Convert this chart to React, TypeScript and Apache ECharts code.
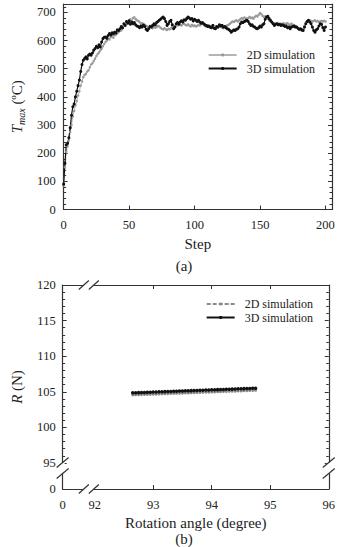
import React, { useEffect, useRef } from 'react';
import * as echarts from 'echarts';

const FONT = '"Liberation Serif", "Times New Roman", serif';
const INK = '#222';
const AXIS = '#333';

// ---------- (a) Tmax vs step ----------
const steps = Array.from({ length: 201 }, (_, i) => i);
const tmax2D = [
  85, 150, 205, 225, 245, 275, 300, 330, 350, 370,
  385, 405, 420, 440, 455, 470, 478, 482, 490, 495,
  505, 515, 520, 528, 536, 545, 552, 558, 565, 571,
  580, 588, 595, 600, 607, 604, 612, 616, 610, 619,
  622, 626, 630, 634, 636, 645, 652, 658, 662, 666,
  672, 676, 668, 680, 683, 676, 672, 670, 666, 660,
  662, 658, 656, 652, 650, 648, 652, 648, 644, 650,
  646, 648, 652, 650, 646, 642, 640, 644, 640, 638,
  642, 640, 644, 648, 652, 650, 656, 654, 660, 656,
  654, 658, 660, 656, 654, 658, 654, 650, 656, 652,
  654, 650, 652, 656, 654, 658, 660, 656, 652, 650,
  654, 648, 646, 650, 648, 644, 650, 646, 648, 652,
  650, 646, 644, 648, 652, 654, 656, 660, 664, 668,
  666, 670, 672, 668, 672, 676, 680, 678, 682, 680,
  676, 680, 684, 680, 682, 678, 684, 688, 686, 692,
  698, 694, 688, 684, 686, 682, 678, 672, 668, 664,
  660, 662, 658, 662, 660, 656, 660, 658, 662, 658,
  660, 662, 658, 656, 660, 656, 654, 652, 648, 644,
  640, 638, 636, 640, 652, 664, 670, 668, 672, 670,
  668, 670, 672, 668, 670, 666, 668, 670, 668, 670,
  668,
];
const tmax3D = [
  90, 165, 230, 235, 255, 290, 335, 365, 375, 400,
  420, 440, 460, 490, 515, 530, 536, 542, 535, 548,
  552, 548, 556, 566, 572, 580, 575, 585, 577, 595,
  607, 612, 613, 608, 618, 625, 620, 628, 624, 630,
  627, 638, 636, 642, 650, 645, 660, 654, 668, 662,
  670, 658, 666, 660, 664, 656, 652, 650, 646, 652,
  648, 655, 650, 640, 636, 642, 650, 648, 654, 660,
  656, 664, 668, 672, 676, 680, 684, 678, 668, 654,
  660, 668, 672, 656, 642, 648, 660, 664, 658, 666,
  670, 666, 674, 672, 678, 684, 680, 676, 678, 670,
  676, 672, 668, 672, 666, 662, 664, 660, 656, 654,
  650, 652, 648, 646, 654, 644, 642, 650, 648, 656,
  652, 654, 648, 650, 646, 642, 640, 636, 630, 634,
  638, 636, 640, 642, 648, 660, 666, 664, 668, 670,
  672, 668, 660, 654, 656, 650, 648, 644, 642, 646,
  652, 648, 656, 660, 676, 684, 686, 678, 672, 666,
  660, 654, 658, 660, 656, 658, 654, 656, 654, 650,
  652, 646, 648, 642, 648, 650, 652, 648, 648, 644,
  640, 642, 638, 636, 648, 660, 668, 672, 666, 660,
  648, 636, 630, 638, 642, 652, 660, 658, 646, 636,
  648,
];
const stepLabels = [0, 50, 100, 150, 200];
const tmaxLabels = [0, 100, 200, 300, 400, 500, 600, 700];

// ---------- (b) R vs rotation angle ----------
const angles = [
  92.65, 92.7, 92.75, 92.8, 92.85, 92.9, 92.95, 93.0, 93.05, 93.1,
  93.15, 93.2, 93.25, 93.3, 93.35, 93.4, 93.45, 93.5, 93.55, 93.6,
  93.65, 93.7, 93.75, 93.8, 93.85, 93.9, 93.95, 94.0, 94.05, 94.1,
  94.15, 94.2, 94.25, 94.3, 94.35, 94.4, 94.45, 94.5, 94.55, 94.6,
  94.65, 94.7, 94.75,
];
const r3D = [
  104.85, 104.87, 104.88, 104.9, 104.91, 104.93, 104.94, 104.96, 104.97, 104.99,
  105.01, 105.02, 105.04, 105.05, 105.07, 105.08, 105.1, 105.11, 105.13, 105.14,
  105.16, 105.17, 105.19, 105.21, 105.22, 105.24, 105.25, 105.27, 105.28, 105.3,
  105.31, 105.33, 105.34, 105.36, 105.37, 105.39, 105.41, 105.42, 105.44, 105.45,
  105.47, 105.48, 105.5,
];
const r2D = [
  104.55, 104.57, 104.58, 104.6, 104.61, 104.63, 104.64, 104.66, 104.67, 104.69,
  104.71, 104.72, 104.74, 104.75, 104.77, 104.78, 104.8, 104.81, 104.83, 104.84,
  104.86, 104.87, 104.89, 104.91, 104.92, 104.94, 104.95, 104.97, 104.98, 105.0,
  105.01, 105.03, 105.04, 105.06, 105.07, 105.09, 105.11, 105.12, 105.14, 105.15,
  105.17, 105.18, 105.2,
];
const angleMin = 91.453;
const angleMax = 96;
const angleTicks = [93, 94, 95];
const angleLabels = [angleMin, 92, 93, 94, 95, 96];
const rMin = 91.34;
const rMax = 120;
const rTicks = [95, 100, 105, 110, 115, 120];
const rLabels = [rMin, 95, 100, 105, 110, 115, 120];
const rMinorTicks = [96, 97, 98, 99, 101, 102, 103, 104, 106, 107, 108, 109, 111, 112, 113, 114, 116, 117, 118, 119];
const xBreakAt = 91.9;
const yBreakAt = 94.3;

const labelStyle = { fontFamily: FONT, fontSize: 12.5, color: INK };
const nameStyle = { fontFamily: FONT, fontSize: 15, color: INK };
const lineSt = { color: AXIS, width: 1.2 };

const legendBase = {
  orient: 'vertical',
  itemWidth: 28,
  itemHeight: 4,
  itemGap: 1.5,
  textStyle: { fontFamily: FONT, fontSize: 12, lineHeight: 12, color: INK, padding: [0, 0, 0, 5] },
  data: ['2D simulation', '3D simulation'],
};

function topOption(): any {
  const mkX = (pos: string, labels: boolean) => ({
    type: 'value', position: pos, min: 0, max: 205,
    axisLine: { show: true, onZero: false, lineStyle: lineSt },
    axisTick: { show: true, inside: true, length: 4, lineStyle: { color: AXIS }, customValues: stepLabels },
    axisLabel: { show: labels, ...labelStyle, margin: 9, customValues: stepLabels },
    splitLine: { show: false },
    ...(labels ? { name: 'Step', nameLocation: 'middle', nameGap: 26, nameTextStyle: nameStyle } : {}),
  });
  const mkY = (pos: string, labels: boolean) => ({
    type: 'value', position: pos, min: 0, max: 730, interval: 100,
    axisLine: { show: true, onZero: false, lineStyle: lineSt },
    axisTick: { show: true, inside: true, length: 4, lineStyle: { color: AXIS } },
    minorTick: { show: true, splitNumber: 5, length: 2.5, lineStyle: { color: AXIS } },
    axisLabel: { show: labels, ...labelStyle, margin: 8, customValues: tmaxLabels },
    splitLine: { show: false },
    minorSplitLine: { show: false },
    ...(labels ? {
      name: '{i|T}{s|max} ({p|o}C)', nameLocation: 'middle', nameRotate: 90, nameGap: 37,
      nameTextStyle: {
        ...nameStyle, lineHeight: 18,
        rich: {
          i: { fontFamily: FONT, fontSize: 15, fontStyle: 'italic', color: INK, lineHeight: 18 },
          s: { fontFamily: FONT, fontSize: 10, fontStyle: 'italic', color: INK, lineHeight: 10, verticalAlign: 'bottom' },
          p: { fontFamily: FONT, fontSize: 9, color: INK, lineHeight: 9, verticalAlign: 'top' },
        },
      },
    } : {}),
  });
  return {
    animation: false,
    textStyle: { fontFamily: FONT },
    grid: { left: 59, right: 6, top: 4, bottom: 65.5, containLabel: false },
    legend: { ...legendBase, right: 18, top: 44 },
    xAxis: [mkX('bottom', true), mkX('top', false)],
    yAxis: [mkY('left', true), mkY('right', false)],
    series: [
      {
        name: '2D simulation', type: 'line', xAxisIndex: 0, yAxisIndex: 0,
        data: steps.map((s, i) => [s, tmax2D[i]]),
        symbol: 'circle', symbolSize: 2.5,
        lineStyle: { color: '#b5b5b5', width: 1 },
        itemStyle: { color: '#9a9a9a' },
      },
      {
        name: '3D simulation', type: 'line', xAxisIndex: 0, yAxisIndex: 0,
        data: steps.map((s, i) => [s, tmax3D[i]]),
        symbol: 'circle', symbolSize: 3,
        lineStyle: { color: '#111', width: 1.2 },
        itemStyle: { color: '#111' },
      },
    ],
    graphic: [
      { type: 'text', x: 184, y: 266, z: 100, style: { text: '(a)', fontFamily: FONT, fontSize: 15, fill: INK, align: 'center', verticalAlign: 'middle' } },
    ],
  };
}

function bottomOption(): any {
  const mkX = (pos: string, labels: boolean) => ({
    type: 'value', position: pos, min: angleMin, max: angleMax,
    axisLine: { show: true, onZero: false, lineStyle: lineSt },
    axisTick: { show: true, inside: true, length: 4, lineStyle: { color: AXIS }, customValues: angleTicks },
    axisLabel: {
      show: labels, ...labelStyle, margin: 9, customValues: angleLabels,
      formatter: (v: number) => (v < 91.9 ? '0' : String(v)),
    },
    splitLine: { show: false },
    ...(labels ? { name: 'Rotation angle (degree)', nameLocation: 'middle', nameGap: 26, nameTextStyle: nameStyle } : {}),
  });
  const mkY = (pos: string, labels: boolean, minor: boolean) => ({
    type: 'value', position: pos, min: rMin, max: rMax,
    axisLine: { show: !minor, onZero: false, lineStyle: lineSt },
    axisTick: { show: true, inside: true, length: minor ? 2.5 : 4, lineStyle: { color: AXIS }, customValues: minor ? rMinorTicks : rTicks },
    axisLabel: {
      show: labels, ...labelStyle, margin: 7, customValues: rLabels,
      formatter: (v: number) => (v < 92 ? '0' : String(v)),
    },
    splitLine: { show: false },
    ...(labels ? {
      name: '{i|R} (N)', nameLocation: 'middle', nameRotate: 90, nameGap: 35,
      nameTextStyle: {
        ...nameStyle, lineHeight: 18,
        rich: { i: { fontFamily: FONT, fontSize: 15, fontStyle: 'italic', color: INK, lineHeight: 18 } },
      },
    } : {}),
  });
  return {
    animation: false,
    textStyle: { fontFamily: FONT },
    grid: { left: 57.3, right: 8.7, top: 10, bottom: 58, containLabel: false },
    legend: { ...legendBase, right: 20, top: 18 },
    xAxis: [mkX('bottom', true), mkX('top', false)],
    yAxis: [mkY('left', true, false), mkY('right', false, false), mkY('left', false, true), mkY('right', false, true)],
    series: [
      {
        name: '2D simulation', type: 'line', xAxisIndex: 0, yAxisIndex: 0,
        data: angles.map((a, i) => [a, r2D[i]]),
        symbol: 'circle', symbolSize: 3,
        lineStyle: { color: '#8a8a8a', width: 1, type: [4, 2] },
        itemStyle: { color: '#8a8a8a' },
      },
      {
        name: '3D simulation', type: 'line', xAxisIndex: 0, yAxisIndex: 0,
        data: angles.map((a, i) => [a, r3D[i]]),
        symbol: 'circle', symbolSize: 3.5,
        lineStyle: { color: '#111', width: 1.2 },
        itemStyle: { color: '#111' },
      },
    ],
  };
}

function breakGraphics(chart: any): any[] {
  const px = (x: number, y: number) => chart.convertToPixel({ xAxisIndex: 0, yAxisIndex: 0 }, [x, y]) as number[];
  const [gl, gb] = px(angleMin, rMin);
  const [gr, gt] = px(angleMax, rMax);
  const [bx] = px(xBreakAt, rMin);
  const [, by] = px(angleMin, yBreakAt);
  const stroke = { stroke: AXIS, lineWidth: 1.2 };
  const els: any[] = [];
  const onX = (ey: number) => {
    els.push({ type: 'rect', z: 100, shape: { x: bx - 5, y: ey - 2, width: 10, height: 4 }, style: { fill: '#fff' } });
    [-5, 5].forEach((d) => els.push({ type: 'line', z: 101, shape: { x1: bx + d - 5, y1: ey + 4.5, x2: bx + d + 5, y2: ey - 4.5 }, style: stroke }));
  };
  const onY = (ex: number) => {
    els.push({ type: 'rect', z: 100, shape: { x: ex - 2, y: by - 5.5, width: 4, height: 11 }, style: { fill: '#fff' } });
    [-5.5, 5.5].forEach((d) => els.push({ type: 'line', z: 101, shape: { x1: ex - 6, y1: by + d + 5, x2: ex + 6, y2: by + d - 5 }, style: stroke }));
  };
  onX(gb); onX(gt); onY(gl); onY(gr);
  els.push({ type: 'text', x: 184, y: 264, z: 100, style: { text: '(b)', fontFamily: FONT, fontSize: 15, fill: INK, align: 'center', verticalAlign: 'middle' } });
  return els;
}

export default function App() {
  const topRef = useRef<HTMLDivElement>(null);
  const botRef = useRef<HTMLDivElement>(null);
  useEffect(() => {
    const c1 = echarts.init(topRef.current!, null, { renderer: 'svg' });
    c1.setOption(topOption());
    const c2 = echarts.init(botRef.current!, null, { renderer: 'svg' });
    c2.setOption(bottomOption());
    c2.setOption({ graphic: breakGraphics(c2) });
    return () => { c1.dispose(); c2.dispose(); };
  }, []);
  return (
    <div style={{ position: 'fixed', left: 0, top: 0, width: 338, height: 547, background: '#fff' }}>
      <div ref={topRef} style={{ position: 'absolute', left: 0, top: 0, width: 338, height: 275 }} />
      <div ref={botRef} style={{ position: 'absolute', left: 0, top: 275, width: 338, height: 272 }} />
    </div>
  );
}
